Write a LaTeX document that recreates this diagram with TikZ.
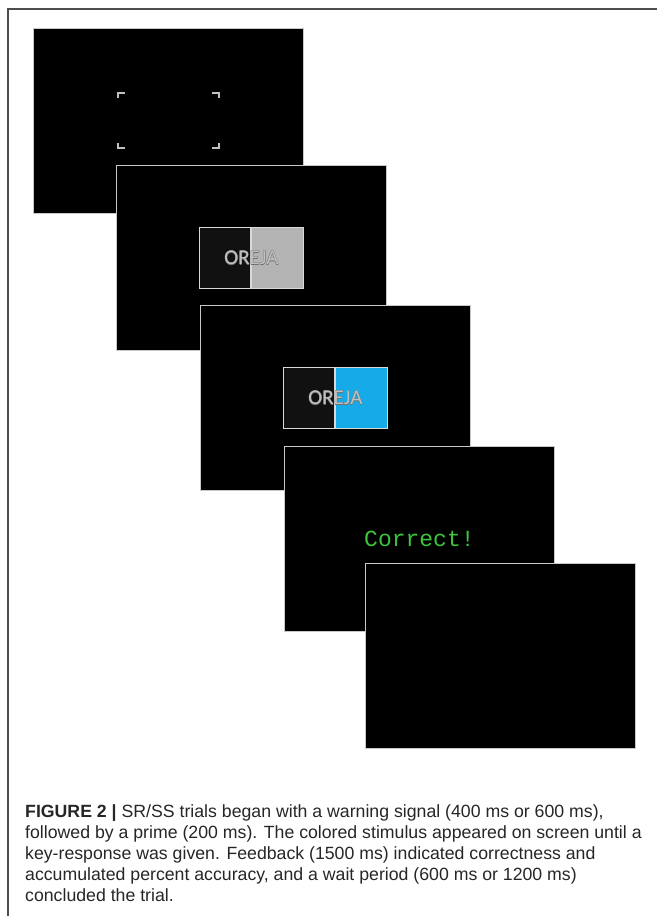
\documentclass[tikz,border=0pt]{standalone}
\usepackage{fontspec}
\usepackage{tikz}
\usetikzlibrary{positioning, calc}
\newfontfamily\stimfont{Carlito}
\newfontfamily\monofont{Liberation Mono}
\newfontfamily\capfont{Liberation Sans}
\definecolor{marco}{HTML}{4D4D4D}
\definecolor{borde}{HTML}{C8C8C8}
\definecolor{oscuro}{HTML}{111111}
\definecolor{gris}{HTML}{B4B4B4}
\definecolor{azul}{HTML}{17AAE8}
\definecolor{verde}{HTML}{3CC43C}
\definecolor{letra}{HTML}{C0C0C0}
\definecolor{contorno}{HTML}{707070}
\definecolor{tinta}{HTML}{262626}
\tikzset{
  pantalla/.style={rectangle, draw=borde, fill=black, line width=0.9pt, minimum width=270pt, minimum height=185pt, anchor=north west, inner sep=0pt},
  mitad/.style={rectangle, draw=white!85!black, line width=1pt, minimum width=51.5pt, minimum height=61pt, inner sep=0pt},
  esquina/.style={draw=letra, line width=1.4pt},
  palabra/.style={font=\stimfont\fontsize{21}{21}\selectfont, inner sep=0pt}
}
\begin{document}
\begin{tikzpicture}[x=1pt, y=-1pt]
    \useasboundingbox (0,0) rectangle (657,916);

    % --- Marco ---
    \draw [marco, line width=1.5pt] (8,916) -- (8,9) -- (657,9);

    % --- Pantallas ---
    \node (pant1) [pantalla] at (33,28) {};
    \node (pant2) [pantalla] at (116,165) {};
    \node (pant3) [pantalla] at (200,305) {};
    \node (pant4) [pantalla] at (284,446) {};
    \node (pant5) [pantalla] at (365,563) {};

    % Señal de aviso (esquinas)
    \coordinate (c1) at ($(pant1.center)+(-50.5,-28)$);
    \coordinate (c2) at ($(pant1.center)+(50.5,-28)$);
    \coordinate (c3) at ($(pant1.center)+(-50.5,27)$);
    \coordinate (c4) at ($(pant1.center)+(50.5,27)$);
    \draw [esquina] ($(c1)+(0,5)$) -- (c1) -- ++(7,0);
    \draw [esquina] ($(c2)+(-7,0)$) -- (c2) -- ++(0,5);
    \draw [esquina] ($(c3)+(0,-5)$) -- (c3) -- ++(7,0);
    \draw [esquina] ($(c4)+(-7,0)$) -- (c4) -- ++(0,-5);

    % Prime
    \node (izq2) [mitad, fill=oscuro, anchor=east] at (pant2.center) {};
    \node (der2) [mitad, fill=gris, anchor=west] at (pant2.center) {};
    \foreach \dx/\dy in {-0.35/0, 0.35/0, 0/-0.35, 0/0.35}
      \node [palabra, text=contorno] at ($(pant2.center)+(\dx,\dy)$) {OREJA};
    \node (pal2) [palabra, text=letra] at (pant2.center) {OREJA};

    % Estímulo coloreado
    \node (izq3) [mitad, fill=oscuro, anchor=east] at (pant3.center) {};
    \node (der3) [mitad, fill=azul, anchor=west] at (pant3.center) {};
    \foreach \dx/\dy in {-0.35/0, 0.35/0, 0/-0.35, 0/0.35}
      \node [palabra, text=contorno] at ($(pant3.center)+(\dx,\dy)$) {OREJA};
    \node (pal3) [palabra, text=letra] at (pant3.center) {OREJA};

    % Feedback
    \node (fb) [font=\monofont\fontsize{23}{23}\selectfont, text=verde] at (pant4.center) {Correct!};

    % --- Leyenda ---
    \node (leyenda) [anchor=north west, align=left, inner sep=0pt, text=tinta, font=\capfont\fontsize{17.7}{21}\selectfont] at (25,804)
      {\textbf{FIGURE 2 |} SR/SS trials began with a warning signal (400 ms or 600 ms),\\
       followed by a prime (200 ms). The colored stimulus appeared on screen until a\\
       key-response was given. Feedback (1500 ms) indicated correctness and\\
       accumulated percent accuracy, and a wait period (600 ms or 1200 ms)\\
       concluded the trial.};
\end{tikzpicture}
\end{document}
